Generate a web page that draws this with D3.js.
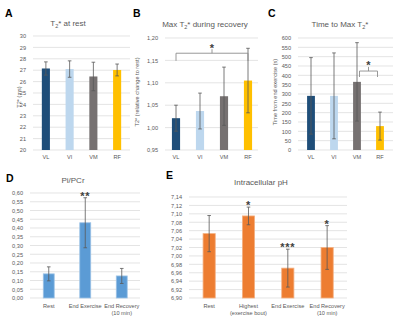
<!DOCTYPE html>
<html>
<head>
<meta charset="utf-8">
<script src="https://cdn.jsdelivr.net/npm/d3@7"></script>
<style>
  body { margin: 0; background: #fff; }
  svg { font-family: "Liberation Sans", Arial, sans-serif; }
</style>
</head>
<body>
<svg id="chart" width="400" height="323"></svg>
<script>
// muscles (panels A-C)
const muscles = ["VL", "VI", "VM", "RF"];
const muscleColors = ["#1f4e79", "#bdd7ee", "#767171", "#ffc000"];

const t2Rest = [27.15, 27.1, 26.45, 27.02];
const t2RestErr = [0.58, 0.72, 1.25, 0.52];

const t2Max = [1.021, 1.037, 1.070, 1.105];
const t2MaxErr = [0.029, 0.040, 0.065, 0.072];

const timeToMax = [290, 290, 365, 128];
const timeToMaxErr = [205, 230, 210, 75];

// panel D
const piCats = ["Rest", "End Exercise", "End Recovery\n(10 min)"];
const piPcr = [0.138, 0.43, 0.126];
const piPcrErr = [0.04, 0.143, 0.043];
const piStars = ["", "**", ""];

// panel E
const phCats = ["Rest", "Highest\n(exercise bout)", "End Exercise", "End Recovery\n(10 min)"];
const ph = [7.053, 7.095, 6.971, 7.020];
const phErr = [0.043, 0.021, 0.045, 0.052];
const phStars = ["", "*", "***", "*"];

const comma = f => v => d3.format(f)(v).replace(".", ",");

const svg = d3.select("#chart");

function panel(o) {
  const g = svg.append("g");
  const x = d3.scaleBand().domain(o.cats).range(o.xr)
    .paddingInner(o.pad).paddingOuter(o.pad / 2);
  const y = d3.scaleLinear().domain(o.dom).range(o.yr);
  const ticks = d3.range(o.dom[0], o.dom[1] + o.step / 2, o.step);

  // grid lines
  g.selectAll(".grid").data(ticks).join("line")
    .attr("x1", o.gx[0]).attr("x2", o.gx[1])
    .attr("y1", d => y(d)).attr("y2", d => y(d))
    .attr("stroke", "#d9d9d9").attr("stroke-width", 0.7);

  const yAxis = g.append("g")
    .attr("transform", `translate(${o.gx[0] - 4},0)`)
    .call(d3.axisLeft(y).tickValues(ticks).tickFormat(o.fmt).tickSize(0));
  yAxis.select(".domain").remove();
  yAxis.selectAll("text").attr("fill", "#595959").attr("font-size", 5.6);

  // bars
  g.selectAll(".bar").data(o.vals).join("rect")
    .attr("x", (d, i) => x(o.cats[i]))
    .attr("width", x.bandwidth())
    .attr("y", d => y(d))
    .attr("height", d => y(o.dom[0]) - y(d))
    .attr("fill", (d, i) => o.colors[i])
    .attr("stroke", o.edge || "none").attr("stroke-width", 0.8);

  // error bars
  const eb = g.selectAll(".err").data(o.vals).join("g")
    .attr("stroke", "#595959").attr("stroke-width", 0.8);
  eb.append("line")
    .attr("x1", (d, i) => x(o.cats[i]) + x.bandwidth() / 2)
    .attr("x2", (d, i) => x(o.cats[i]) + x.bandwidth() / 2)
    .attr("y1", (d, i) => y(d - o.err[i]))
    .attr("y2", (d, i) => y(d + o.err[i]));
  [-1, 1].forEach(s => {
    eb.append("line")
      .attr("x1", (d, i) => x(o.cats[i]) + x.bandwidth() / 2 - 1.8)
      .attr("x2", (d, i) => x(o.cats[i]) + x.bandwidth() / 2 + 1.8)
      .attr("y1", (d, i) => y(d + s * o.err[i]))
      .attr("y2", (d, i) => y(d + s * o.err[i]));
  });

  // category labels
  const cl = g.selectAll(".cat").data(o.cats).join("text")
    .attr("x", d => x(d) + x.bandwidth() / 2)
    .attr("y", o.catY)
    .attr("text-anchor", "middle")
    .attr("font-size", 5.6).attr("fill", "#595959");
  cl.selectAll("tspan").data(d => d.split("\n")).join("tspan")
    .attr("x", function () { return this.parentNode.getAttribute("x"); })
    .attr("dy", (d, i) => i ? 7.2 : 0)
    .text(d => d);

  // stars over bars
  if (o.stars) {
    g.selectAll(".star").data(o.vals).join("text")
      .attr("x", (d, i) => x(o.cats[i]) + x.bandwidth() / 2)
      .attr("y", (d, i) => y(d + o.err[i]) + 2)
      .attr("text-anchor", "middle")
      .attr("font-size", 11).attr("font-weight", "bold").attr("fill", "#404040")
      .attr("letter-spacing", 0.8)
      .text((d, i) => o.stars[i]);
  }

  // bracket
  if (o.bracket) {
    const b = o.bracket;
    const x0 = x(b.from) + x.bandwidth() / 2 + (b.inset || 0);
    const x1 = x(b.to) + x.bandwidth() / 2 - (b.inset || 0);
    const xm = (x0 + x1) / 2;
    g.append("path")
      .attr("d", `M${x0},${y(b.low)}V${y(b.high)}H${x1}V${y(b.low)}M${xm},${y(b.high)}V${y(b.top)}`)
      .attr("fill", "none").attr("stroke", "#8c8c8c").attr("stroke-width", 0.9);
    g.append("text")
      .attr("x", xm).attr("y", y(b.top) + 2.5)
      .attr("text-anchor", "middle")
      .attr("font-size", 11).attr("font-weight", "bold").attr("fill", "#404040")
      .text("*");
  }

  // title
  const t = g.append("text")
    .attr("x", o.title.x).attr("y", o.title.y)
    .attr("text-anchor", "middle").attr("font-size", 8).attr("fill", "#595959");
  o.title.parts.forEach(p => {
    const ts = t.append("tspan").text(p.t);
    if (p.sub) ts.attr("font-size", 5.5).attr("dy", 2);
    if (p.up) ts.attr("dy", -2);
  });

  // y axis label
  if (o.ylabel) {
    g.append("text")
      .attr("transform", `translate(${o.ylabel.x},${o.ylabel.y}) rotate(-90)`)
      .attr("text-anchor", "middle").attr("font-size", 5.6).attr("fill", "#595959")
      .text(o.ylabel.t);
  }

  // panel letter
  g.append("text")
    .attr("x", o.letter.x).attr("y", o.letter.y)
    .attr("font-size", 10.5).attr("font-weight", "bold").attr("fill", "#000")
    .text(o.letter.t);
}

panel({
  cats: muscles, vals: t2Rest, err: t2RestErr, colors: muscleColors,
  xr: [34, 129], pad: 0.66, gx: [33, 130],
  dom: [20, 30], step: 1, yr: [150, 36], fmt: d3.format("d"),
  catY: 159,
  title: { x: 68, y: 26, parts: [{ t: "T" }, { t: "2", sub: true }, { t: "* at rest", up: true }] },
  ylabel: { x: 21, y: 97, t: "T2* (ms)" },
  letter: { x: 5, y: 17, t: "A" }
});

panel({
  cats: muscles, vals: t2Max, err: t2MaxErr, colors: muscleColors,
  xr: [164, 260], pad: 0.66, gx: [165, 258],
  dom: [0.95, 1.20], step: 0.05, yr: [150, 38], fmt: comma(".2f"),
  catY: 159,
  title: { x: 205, y: 27, parts: [{ t: "Max T" }, { t: "2", sub: true }, { t: "* during recovery", up: true }] },
  ylabel: { x: 139, y: 92, t: "T2* (relative change to rest)" },
  letter: { x: 133, y: 17, t: "B" },
  bracket: { from: "VL", to: "RF", low: 1.149, high: 1.166, top: 1.175 }
});

panel({
  cats: muscles, vals: timeToMax, err: timeToMaxErr, colors: muscleColors,
  xr: [299.5, 391.5], pad: 0.66, gx: [298, 393],
  dom: [0, 600], step: 50, yr: [150, 38], fmt: d3.format("d"),
  catY: 159,
  title: { x: 340, y: 27, parts: [{ t: "Time to Max T" }, { t: "2", sub: true }, { t: "*", up: true }] },
  ylabel: { x: 277, y: 92, t: "Time from end exercise (s)" },
  letter: { x: 268, y: 17, t: "C" },
  bracket: { from: "VM", to: "RF", low: 391, high: 423, top: 445, inset: 2.5 }
});

panel({
  cats: piCats, vals: piPcr, err: piPcrErr, colors: piCats.map(() => "#5b9bd5"),
  edge: "#9dc3e6",
  xr: [30.5, 140], pad: 0.7, gx: [30, 140],
  dom: [0, 0.60], step: 0.05, yr: [298, 193], fmt: comma(".2f"),
  catY: 308, stars: piStars,
  title: { x: 73, y: 183, parts: [{ t: "Pi/PCr" }] },
  letter: { x: 6, y: 182, t: "D" }
});

panel({
  cats: phCats, vals: ph, err: phErr, colors: phCats.map(() => "#ed7d31"),
  edge: "#f4b183",
  xr: [189.5, 346.8], pad: 0.69, gx: [189, 347],
  dom: [6.90, 7.14], step: 0.02, yr: [298, 197], fmt: comma(".2f"),
  catY: 308, stars: phStars,
  title: { x: 261, y: 185, parts: [{ t: "Intracellular pH" }] },
  letter: { x: 166, y: 179, t: "E" }
});
</script>
</body>
</html>
